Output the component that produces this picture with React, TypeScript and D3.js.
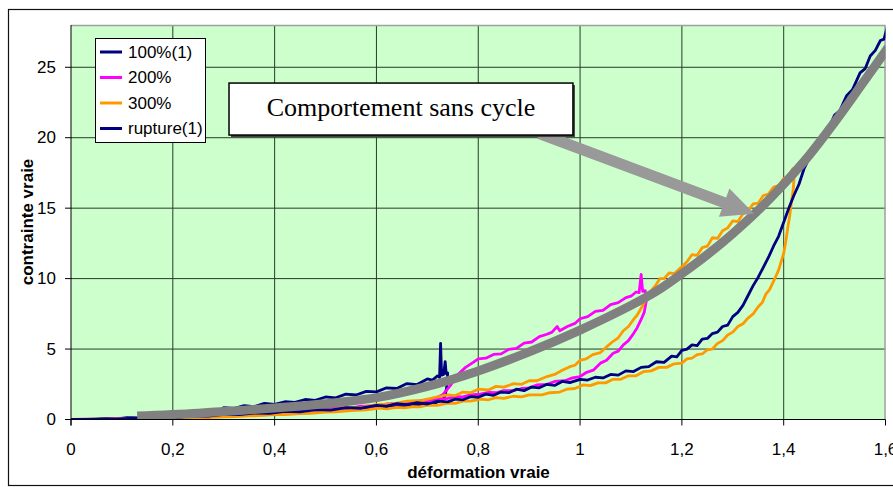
import React from "react";
import * as d3 from "d3";

type P = [number, number];

const X_TICKS = [0, 0.2, 0.4, 0.6, 0.8, 1, 1.2, 1.4, 1.6];
const X_TICK_LABELS = ["0", "0,2", "0,4", "0,6", "0,8", "1", "1,2", "1,4", "1,6"];
const Y_TICKS = [0, 5, 10, 15, 20, 25];
const SERIES_NAMES = ["100%(1)", "200%", "300%", "rupture(1)"];
const SERIES_COLORS = ["#000080", "#FF00FF", "#FF9900", "#000080"];

const S100: P[] = [
  [0.05,0.0],[0.07,0.06],[0.09,0.04],[0.11,0.14],[0.13,0.12],[0.15,0.24],[0.17,0.21],[0.19,0.36],[0.21,0.33],[0.23,0.5],[0.25,0.46],[0.27,0.64],[0.29,0.6],[0.3,0.84],[0.32,0.78],[0.34,0.98],[0.36,0.92],[0.38,1.14],[0.4,1.08],[0.42,1.26],[0.44,1.22],[0.46,1.42],[0.48,1.36],[0.5,1.6],[0.52,1.54],[0.54,1.8],[0.56,1.74],[0.58,2.0],[0.6,1.96],[0.62,2.25],[0.64,2.2],[0.66,2.55],[0.68,2.48],[0.7,2.88],[0.71,2.8],[0.72,3.1],[0.724,3.0],[0.726,5.4],[0.728,3.15],[0.732,3.2],[0.735,4.1],[0.737,3.25],[0.74,3.3],
  [0.738,2.3],[0.735,1.7],[0.73,1.4],[0.72,1.25],[0.71,1.05],[0.7,1.18],[0.685,1.0],[0.67,1.1],[0.655,0.92],[0.64,1.0],[0.62,0.85],[0.6,0.92],[0.58,0.78],[0.56,0.82],[0.54,0.7],[0.52,0.74],[0.5,0.62],[0.48,0.66],[0.46,0.55],[0.44,0.58],[0.42,0.47],[0.4,0.5],[0.38,0.4],[0.36,0.42],[0.34,0.32],[0.32,0.35],[0.3,0.26],[0.28,0.28],[0.26,0.2],[0.24,0.2],[0.22,0.13],[0.2,0.14],[0.18,0.08],[0.16,0.08],[0.14,0.03],[0.12,0.02],[0.1,0.0]
];

const S200: P[] = [
  [0.0,0.0],[0.03,0.02],[0.06,0.0],[0.09,0.06],[0.12,0.04],[0.15,0.12],[0.18,0.1],[0.21,0.2],[0.24,0.18],[0.27,0.3],[0.3,0.28],[0.33,0.4],[0.36,0.38],[0.39,0.52],[0.42,0.5],[0.45,0.65],[0.48,0.62],[0.51,0.78],[0.54,0.76],[0.57,0.94],[0.6,0.92],[0.63,1.12],[0.66,1.1],[0.69,1.35],[0.71,1.42],[0.73,1.75],[0.745,2.4],[0.76,3.2],[0.775,3.7],
  [0.79,4.05],[0.8,4.3],[0.815,4.35],[0.83,4.62],[0.845,4.66],[0.86,4.98],[0.875,5.05],[0.89,5.42],[0.905,5.5],[0.92,5.88],[0.935,6.05],[0.945,6.2],[0.955,6.6],[0.96,6.3],[0.975,6.6],[0.99,6.82],[1.0,7.15],[1.015,7.3],[1.03,7.68],[1.045,7.75],[1.06,8.15],[1.075,8.3],[1.09,8.65],[1.1,8.75],[1.11,9.05],[1.116,9.0],[1.12,10.3],[1.123,9.1],[1.128,9.15],
  [1.13,8.4],[1.126,7.6],[1.12,7.1],[1.112,6.5],[1.105,6.1],[1.095,5.6],[1.085,5.3],[1.075,4.85],[1.065,4.7],[1.052,4.2],[1.04,4.0],[1.026,3.5],[1.013,3.35],[1.0,3.05],[0.985,2.95],[0.97,2.75],[0.95,2.7],[0.935,2.5],[0.915,2.45],[0.9,2.25],[0.885,2.2],[0.869,2.05],[0.85,2.05],[0.835,1.9],[0.82,1.92],[0.804,1.8],[0.785,1.75],[0.77,1.6],[0.755,1.62],[0.738,1.48],[0.72,1.45],[0.7,1.32],[0.685,1.3],[0.673,1.2],[0.655,1.22],[0.64,1.1],[0.62,1.1],[0.607,1.0],[0.58,0.95],[0.55,0.85],[0.52,0.8],[0.5,0.72],[0.47,0.66],[0.45,0.58],[0.42,0.52],[0.4,0.46],[0.37,0.4],[0.35,0.35],[0.32,0.3],[0.3,0.25],[0.27,0.2],[0.25,0.16],[0.22,0.12],[0.2,0.08],[0.17,0.06],[0.15,0.03],[0.12,0.02],[0.1,0.0]
];

const S300: P[] = [
  [0.0,0.0],[0.03,0.0],[0.06,0.03],[0.09,0.02],[0.12,0.08],[0.15,0.06],[0.18,0.14],[0.21,0.12],[0.24,0.22],[0.27,0.2],[0.3,0.32],[0.33,0.3],[0.36,0.44],[0.39,0.42],[0.42,0.56],[0.45,0.54],[0.48,0.7],[0.51,0.68],[0.54,0.86],[0.57,0.84],[0.6,1.05],[0.63,1.1],[0.66,1.3],[0.69,1.35],[0.72,1.6],[0.74,1.75],[0.755,1.7],[0.77,1.95],[0.785,1.9],[0.8,2.15],[0.82,2.1],[0.835,2.35],[0.85,2.3],[0.87,2.55],[0.885,2.5],[0.9,2.75],[0.915,2.75],[0.935,3.05],[0.95,3.2],[0.965,3.5],[0.98,3.75],[0.99,3.85],[1.0,4.2],[1.012,4.3],[1.025,4.6],[1.04,4.75],[1.052,5.15],[1.065,5.55],[1.075,5.8],[1.085,6.3],[1.095,6.6],[1.105,7.1],[1.112,7.4],[1.12,7.9],[1.128,8.4],[1.138,9.05],
  [1.148,9.5],[1.157,10.0],[1.165,10.0],[1.175,10.4],[1.185,10.35],[1.2,10.85],[1.21,11.2],[1.22,11.7],[1.23,11.65],[1.24,12.2],[1.25,12.3],[1.26,12.9],[1.27,12.85],[1.28,13.4],[1.29,13.6],[1.3,14.1],[1.31,14.05],[1.32,14.6],[1.33,14.8],[1.34,15.3],[1.35,15.35],[1.36,15.9],[1.37,16.0],[1.38,16.5],[1.39,16.6],[1.4,17.1],[1.41,17.3],[1.418,17.8],[1.421,17.6],
  [1.419,16.4],[1.415,15.4],[1.412,14.5],[1.408,13.6],[1.404,12.6],[1.4,11.8],[1.395,11.2],[1.39,10.6],[1.385,10.2],[1.38,9.8],[1.372,9.2],[1.365,8.9],[1.358,8.3],[1.35,8.0],[1.34,7.5],[1.33,7.2],[1.32,6.8],[1.31,6.6],[1.3,6.2],[1.29,6.0],[1.28,5.6],[1.27,5.4],[1.26,5.0],[1.25,4.95],[1.24,4.65],[1.23,4.6],[1.22,4.35],[1.21,4.3],[1.2,4.0],[1.185,3.95],[1.17,3.7],[1.155,3.7],[1.14,3.45],[1.125,3.4],[1.11,3.1],[1.095,3.1],[1.08,2.85],[1.065,2.85],[1.05,2.6],[1.035,2.6],[1.02,2.4],[1.006,2.45],[0.99,2.2],[0.974,2.15],[0.96,1.95],[0.941,1.9],[0.925,1.75],[0.9,1.75],[0.885,1.6],[0.869,1.65],[0.85,1.5],[0.835,1.55],[0.82,1.4],[0.804,1.45],[0.785,1.3],[0.77,1.3],[0.755,1.15],[0.738,1.15],[0.72,1.0],[0.7,1.02],[0.685,0.9],[0.673,0.92],[0.655,0.82],[0.64,0.86],[0.62,0.76],[0.607,0.8],[0.58,0.68],[0.55,0.64],[0.52,0.55],[0.5,0.52],[0.47,0.44],[0.45,0.42],[0.42,0.35],[0.4,0.34],[0.37,0.27],[0.35,0.26],[0.32,0.2],[0.3,0.19],[0.27,0.13],[0.25,0.12],[0.22,0.08],[0.2,0.07],[0.17,0.03],[0.15,0.03],[0.12,0.0],[0.1,0.0]
];

const SRUPT: P[] = [
  [0.0,0.0],[0.03,0.0],[0.06,0.04],[0.09,0.02],[0.12,0.1],[0.15,0.08],[0.18,0.18],[0.21,0.16],[0.24,0.26],[0.27,0.24],[0.3,0.36],[0.33,0.34],[0.36,0.46],[0.39,0.44],[0.42,0.58],[0.45,0.55],[0.48,0.7],[0.51,0.66],[0.54,0.85],[0.57,0.8],[0.6,1.0],[0.62,0.95],[0.64,1.12],[0.66,1.05],[0.68,1.2],[0.7,1.1],[0.72,1.3],[0.74,1.25],[0.755,1.45],[0.77,1.4],[0.785,1.62],[0.8,1.58],[0.815,1.8],[0.83,1.72],[0.845,1.95],[0.86,1.9],[0.875,2.15],[0.89,2.05],[0.905,2.3],[0.92,2.25],[0.935,2.5],[0.95,2.42],[0.965,2.7],[0.98,2.62],[1.0,2.85],[1.015,2.8],[1.03,3.0],[1.045,2.95],[1.06,3.2],[1.075,3.15],[1.09,3.45],[1.105,3.4],[1.12,3.7],[1.135,3.75],[1.15,4.1],[1.165,4.05],[1.18,4.5],[1.19,4.45],[1.2,4.9],[1.21,5.0],[1.22,5.3],[1.23,5.25],[1.24,5.7],[1.25,5.75],[1.26,6.1],[1.27,6.2],[1.28,6.6],[1.29,6.7],[1.3,7.3],[1.31,7.6],[1.32,8.1],[1.33,8.8],[1.34,9.5],[1.35,10.1],[1.36,10.8],[1.37,11.5],[1.38,12.3],[1.39,13.0],[1.4,14.0],[1.41,15.0],[1.42,15.9],[1.43,16.7],[1.44,17.8],[1.455,18.9],[1.465,19.4],[1.475,20.0],[1.485,20.4],[1.5,21.6],[1.51,21.9],[1.524,23.0],[1.535,23.4],[1.55,24.6],[1.56,24.9],[1.57,25.8],[1.58,26.2],[1.59,26.9],[1.597,27.0],[1.603,27.8]
];

const MASTER: P[] = [
  [0.13,0.25],[0.25,0.45],[0.4,0.82],[0.5,1.12],[0.6,1.55],[0.7,2.35],[0.8,3.45],[0.9,4.8],[1.0,6.35],[1.1,8.1],[1.15,9.1],[1.2,10.35],[1.25,11.7],[1.3,13.2],[1.35,14.85],[1.4,16.7],[1.45,18.75],[1.5,21.1],[1.55,23.6],[1.605,26.4]
];

const ANNOT_TEXT = "Comportement sans cycle";
const ANNOT_BOX: P[] = [[0.3104, 23.88], [0.986, 20.19]];
const ARROW_FROM: P = [0.92, 20.3];
const ARROW_TO: P = [1.342, 14.6];

const W = 893, H = 487;
const PL = 71, PR = 885.5, PT = 25, PB = 419.5;

export default function App() {
  const x = d3.scaleLinear().domain([0, 1.6]).range([PL, PR]);
  const y = d3.scaleLinear().domain([0, 28]).range([PB, PT]);
  const line = d3.line<P>().x((d) => x(d[0])).y((d) => y(d[1]));
  const smooth = d3.line<P>().x((d) => x(d[0])).y((d) => y(d[1])).curve(d3.curveCatmullRom.alpha(0.5));
  const series = [S100, S200, S300, SRUPT];

  const ax0 = x(ARROW_FROM[0]), ay0 = y(ARROW_FROM[1]);
  const ax1 = x(ARROW_TO[0]), ay1 = y(ARROW_TO[1]);
  const dx = ax1 - ax0, dy = ay1 - ay0;
  const len = Math.hypot(dx, dy);
  const ux = dx / len, uy = dy / len, nx = -uy, ny = ux;
  const headL = 32, headW = 15, shaftW = 5.5;
  const bx = ax1 - ux * headL, by = ay1 - uy * headL;
  const arrowPts = [
    [ax0 + nx * shaftW, ay0 + ny * shaftW],
    [bx + nx * shaftW, by + ny * shaftW],
    [bx + nx * headW, by + ny * headW],
    [ax1, ay1],
    [bx - nx * headW, by - ny * headW],
    [bx - nx * shaftW, by - ny * shaftW],
    [ax0 - nx * shaftW, ay0 - ny * shaftW],
  ].map((p) => p.join(",")).join(" ");

  const bx0 = x(ANNOT_BOX[0][0]), by0 = y(ANNOT_BOX[0][1]);
  const bx1 = x(ANNOT_BOX[1][0]), by1 = y(ANNOT_BOX[1][1]);

  const legendY = [52, 77.5, 103, 128.5];

  return (
    <svg width={W} height={H} style={{ position: "absolute", left: 0, top: 0, background: "#fff" }}
      fontFamily="Arial, 'Liberation Sans', sans-serif">
      <defs>
        <clipPath id="plotclip">
          <rect x={PL} y={PT} width={PR - PL} height={PB - PT} />
        </clipPath>
      </defs>
      <rect x={8.5} y={9.5} width={900} height={476} fill="#fff" stroke="#111" strokeWidth={1.2} />
      <rect x={PL} y={PT} width={PR - PL} height={PB - PT} fill="#CCFFCC" />
      {X_TICKS.slice(1, -1).map((t) => (
        <line key={"gx" + t} x1={x(t)} x2={x(t)} y1={PT} y2={PB} stroke="#2a3a2a" strokeWidth={1} />
      ))}
      {Y_TICKS.slice(1).map((t) => (
        <line key={"gy" + t} x1={PL} x2={PR} y1={y(t)} y2={y(t)} stroke="#2a3a2a" strokeWidth={1} />
      ))}
      <line x1={PL} x2={PR} y1={PT + 0.5} y2={PT + 0.5} stroke="#a0a0a0" strokeWidth={1.5} />
      <line x1={PR - 0.5} x2={PR - 0.5} y1={PT} y2={PB} stroke="#a0a0a0" strokeWidth={1.5} />
      <g clipPath="url(#plotclip)">
        {series.map((s, i) => (
          <path key={"s" + i} d={line(s) || ""} fill="none" stroke={SERIES_COLORS[i]} strokeWidth={2.8} strokeLinejoin="round" />
        ))}
        <path d={smooth(MASTER) || ""} fill="none" stroke="#808080" strokeWidth={9} strokeLinecap="butt" />
      </g>
      <line x1={PL} x2={PL} y1={PT} y2={PB + 6} stroke="#000" strokeWidth={1} />
      <line x1={PL - 6} x2={PR} y1={PB} y2={PB} stroke="#000" strokeWidth={1} />
      {Y_TICKS.map((t) => (
        <g key={"yt" + t}>
          <line x1={PL - 6} x2={PL} y1={y(t)} y2={y(t)} stroke="#000" />
          <text x={56} y={y(t)} fontSize={17} textAnchor="end" dominantBaseline="central">{t}</text>
        </g>
      ))}
      {X_TICKS.map((t, i) => (
        <g key={"xt" + t}>
          <line x1={x(t)} x2={x(t)} y1={PB} y2={PB + 6} stroke="#000" />
          <text x={x(t)} y={455} fontSize={17} textAnchor="middle">{X_TICK_LABELS[i]}</text>
        </g>
      ))}
      <text x={478.5} y={478} fontSize={17} fontWeight="bold" textAnchor="middle">déformation vraie</text>
      <text transform="translate(27,222) rotate(-90)" fontSize={17} fontWeight="bold" textAnchor="middle" dominantBaseline="central">contrainte vraie</text>

      <polygon points={arrowPts} fill="#999999" />
      <rect x={bx0 + 2} y={by0 + 2} width={bx1 - bx0} height={by1 - by0} fill="#404040" />
      <rect x={bx0} y={by0} width={bx1 - bx0} height={by1 - by0} fill="#fff" stroke="#000" strokeWidth={1.5} />
      <text x={(bx0 + bx1) / 2} y={by0 + 32.5} fontSize={26} textAnchor="middle"
        fontFamily="'Times New Roman', 'Liberation Serif', serif">{ANNOT_TEXT}</text>

      <rect x={95.5} y={38.5} width={110} height={104} fill="#fff" stroke="#000" strokeWidth={1} />
      {SERIES_NAMES.map((n, i) => (
        <g key={"lg" + i}>
          <line x1={100} x2={122} y1={legendY[i]} y2={legendY[i]} stroke={SERIES_COLORS[i]} strokeWidth={3} />
          <text x={128} y={legendY[i]} fontSize={17} dominantBaseline="central">{n}</text>
        </g>
      ))}
    </svg>
  );
}
